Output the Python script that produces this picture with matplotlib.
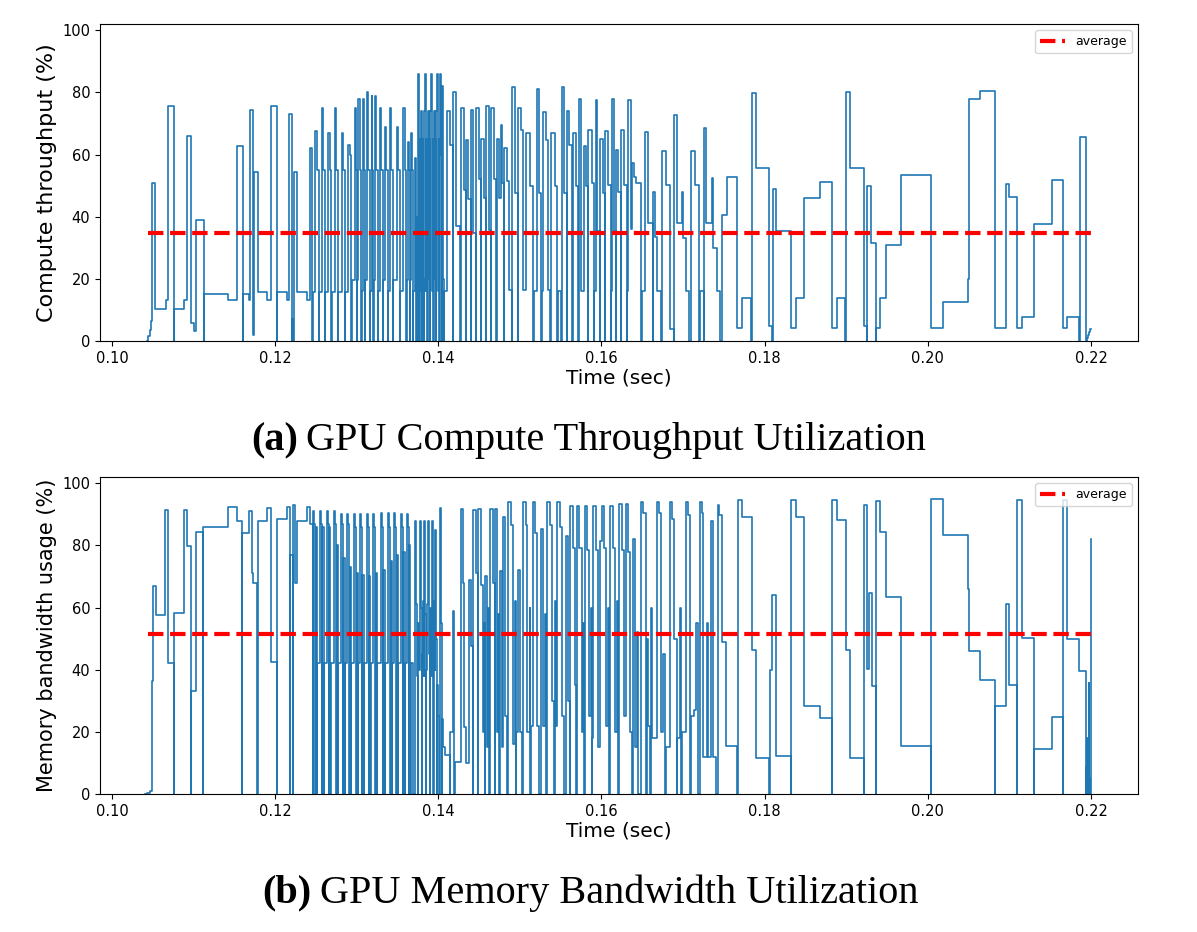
import numpy as np
import matplotlib.pyplot as plt

# ---------------- data (time in ms, utilisation in %) ----------------
# compute throughput, step values
comp_ms = [
    104.30, 104.45, 104.62, 104.78, 104.94, 105.27, 106.58, 106.90,
    107.60, 107.66, 108.86, 109.19, 109.68, 110.10, 110.30, 111.28,
    111.34, 114.26, 115.29, 116.02, 116.08, 116.79, 116.95, 117.28,
    117.41, 117.86, 118.96, 119.45, 120.19, 120.25, 121.49, 121.70,
    122.03, 122.08, 122.18, 122.31, 122.72, 123.87, 124.27, 124.55,
    124.60, 124.88, 125.09, 125.35, 125.40,
    # dense kernels
    125.71, 125.89, 126.07, 126.12,
    126.51, 126.69, 126.87, 126.92,
    127.34, 127.52, 127.70, 127.75,
    128.16, 128.34, 128.52, 128.57,
    128.97, 129.15, 129.33, 129.38,
    129.79, 129.89, 129.99, 130.03,
    130.19, 130.37, 130.55, 130.60,
    130.80, 130.90, 131.00, 131.04,
    131.22, 131.40, 131.58, 131.63,
    131.83, 131.93, 132.03, 132.07,
    132.24, 132.42, 132.60, 132.65,
    132.85, 133.03, 133.21, 133.26,
    133.46, 133.64, 133.82, 133.87,
    134.08, 134.26, 134.44, 134.49,
    134.90, 135.08, 135.26, 135.31,
    135.71, 135.89, 136.07, 136.12,
    136.32, 136.40, 136.48, 136.52,
    136.61, 136.76, 136.91, 136.96,
    137.14, 137.22,
    137.30, 137.35, 137.45, 137.50, 137.60, 137.68, 137.72, 137.82,
    137.90, 138.00, 138.05, 138.15, 138.22, 138.27, 138.37, 138.47,
    138.55, 138.65, 138.70, 138.80, 138.88, 138.98, 139.03, 139.12,
    139.22, 139.30, 139.40, 139.45, 139.55, 139.63, 139.73, 139.78,
    139.90, 140.00, 140.05, 140.12, 140.18, 140.30, 140.40, 140.45,
    140.58, 140.65, 140.70,
    141.03, 141.44, 141.80, 141.84, 142.17, 142.70, 142.74, 142.82,
    143.15, 143.36, 143.40, 143.68, 143.97, 144.01, 144.30, 144.58,
    144.62, 144.95, 145.24, 145.28, 145.60, 145.81, 145.85, 146.18,
    146.46, 146.50, 146.83, 147.12, 147.16, 147.44, 147.65, 147.85,
    148.06, 148.10, 148.38, 148.67, 149.04, 149.08, 149.44, 149.77,
    149.81, 150.10, 150.43, 150.75, 151.24, 151.57, 151.73, 152.06,
    152.39, 152.63, 152.70, 152.88, 153.20, 153.45, 153.74, 153.78,
    154.27, 154.59, 154.65, 155.08, 155.12, 155.41, 155.78, 155.82,
    156.06, 156.43, 156.47, 156.88, 157.17, 157.21, 157.54, 157.86,
    158.11, 158.35,
    158.39, 158.80, 159.09, 159.14, 159.33, 159.49, 159.78, 159.82,
    160.15, 160.39, 160.43, 160.84, 161.13, 161.18, 161.29, 161.54,
    161.74, 161.78, 162.07, 162.36, 162.40, 162.80, 163.09, 163.14,
    163.29, 163.58, 163.74, 164.03, 164.23, 164.81, 164.93, 165.38,
    165.75, 166.28, 166.36, 166.56, 166.85, 167.34, 167.38, 167.91,
    168.40, 168.90, 168.93, 169.22, 169.83, 170.04, 170.36, 170.77,
    170.94, 171.47, 171.96, 172.05, 172.53, 172.57, 172.81, 173.51,
    173.71, 174.12, 174.53, 174.74, 175.35,
    # sparse tail
    176.65, 177.26, 178.33, 178.41, 178.90, 180.57, 180.90, 180.99,
    181.39, 183.19, 183.84, 184.86, 186.79, 188.26, 188.83, 189.89,
    189.97, 190.46, 192.18, 192.51, 192.58, 193.00, 193.62, 193.65,
    194.14, 194.84, 196.68, 200.36, 201.90, 204.96, 205.08, 206.40,
    208.24, 209.58, 209.91, 210.90, 211.51, 213.05, 215.19, 216.53,
    217.10, 218.57, 218.65, 219.35, 219.47, 219.60, 219.75, 219.90,
    220.05,
]
comp_pct = [
    0, 1.5, 3.5, 6.5, 51.0, 10.3, 13.2, 75.6,
    0, 10.3, 13.2, 65.9, 5.7, 3.2, 38.8, 0,
    15.0, 13.2, 62.7, 0, 15.0, 13.2, 74.5, 2.0,
    54.5, 15.8, 13.2, 75.6, 0, 15.8, 13.2, 73.2,
    0, 7.0, 0, 54.5, 15.8, 13.2, 62.0, 0,
    15.8, 67.5, 55.0, 0, 15.8,
    75, 55, 0, 15.8,
    67, 55, 0, 15.8,
    75, 55, 0, 15.8,
    67, 55, 0, 15.8,
    63, 60, 0, 19.7,
    75, 55, 0, 19.7,
    78, 55, 0, 16.0,
    78, 55, 0, 19.7,
    80, 55, 0, 16.0,
    79, 55, 0, 19.7,
    79, 55, 0, 16.0,
    75, 55, 0, 19.7,
    69, 55, 0, 16.0,
    75, 55, 0, 19.7,
    69, 55, 0, 16.0,
    75, 55, 0, 19.7,
    64, 55, 0, 19.7,
    67, 55, 0, 16.0,
    59, 40,
    0, 40, 0, 86, 20, 0, 65, 16,
    74, 0, 65, 20, 0, 74, 86, 16,
    65, 0, 74, 20, 65, 0, 74, 86,
    16, 65, 0, 74, 20, 65, 0, 74,
    86, 16, 65, 0, 86, 60, 0, 82,
    20, 0, 16,
    74, 63, 0, 80, 37, 0, 16, 75,
    48.5, 0, 64.8, 45.7, 0, 74.5, 34.8, 0,
    75, 52, 0, 65, 46, 0, 75.6, 35.6,
    0, 75, 52, 0, 65, 46, 69.5, 51,
    0, 62, 51.4, 16.5, 0, 81.8, 47.6, 0,
    75, 68, 16.5, 66.8, 50, 0, 16, 81,
    47.7, 0, 16, 73.7, 64.8, 16.3, 0, 66.8,
    50, 0, 16, 0, 81.8, 47.6, 0, 74,
    63, 0, 67, 50, 0, 78, 16, 62.7,
    50, 0,
    67.8, 50.8, 0, 16, 77.6, 35.5, 0, 65,
    47.6, 0, 67.5, 50.3, 0, 16, 78, 35.5,
    0, 61.4, 47.8, 0, 68, 50.3, 0, 16,
    77.6, 36, 57.3, 52.7, 51, 0, 16, 67.2,
    38, 0, 48, 33.5, 16, 0, 61.3, 50.3,
    4, 0, 72.6, 38, 48, 33, 16, 0,
    61, 50.3, 0, 16, 0, 68.5, 38, 52.5,
    29.9, 16, 0, 40.6, 52.8,
    4.1, 13.7, 0, 79.9, 55.6, 4.8, 0, 49,
    35.5, 4.1, 13.7, 45.9, 51.1, 4.1, 13.7, 0,
    80.1, 55.6, 4.8, 0, 50, 31.7, 0, 4.1,
    13.7, 31, 53.3, 4.1, 12.6, 20, 78, 80.4,
    4.2, 50.6, 46.3, 4.1, 7.6, 37.5, 51.9, 4.1,
    7.6, 0, 65.5, 0, 1, 2, 3, 3.8,
    3.8,
]

# memory bandwidth usage
mem_ms = [
    104.10, 104.25, 104.66, 104.90, 104.98, 105.35, 106.50, 106.91, 107.60,
    107.64, 108.87, 109.23, 109.64, 109.68, 110.30, 111.16, 111.20,
    114.18, 115.28, 115.89, 115.98, 116.79, 117.12, 117.32, 117.82,
    117.86, 118.96, 119.45, 120.18, 120.22, 121.49, 121.80, 121.84,
    122.20, 122.23, 122.43, 122.72, 123.86, 124.27, 124.64,
    124.68, 124.80, 124.94, 124.98, 125.13, 125.17,
    125.50, 125.62, 125.76, 125.80, 125.95, 125.99,
    126.31, 126.43, 126.57, 126.61, 126.76, 126.80,
    127.25, 127.37, 127.51, 127.55, 127.70, 127.74,
    128.07, 128.19, 128.33, 128.37, 128.52, 128.56,
    128.85, 128.97, 129.11, 129.15, 129.30, 129.34,
    129.70, 129.82, 129.96, 130.00, 130.15, 130.19,
    130.40, 130.52, 130.66, 130.70, 130.85, 130.89,
    131.22, 131.34, 131.48, 131.52, 131.67, 131.71,
    132.03, 132.15, 132.29, 132.33, 132.48, 132.52,
    132.97, 133.09, 133.23, 133.27, 133.42, 133.46,
    133.87, 133.99, 134.13, 134.17, 134.32, 134.36,
    134.61, 134.73, 134.87, 134.91, 135.06, 135.10,
    135.43, 135.55, 135.69, 135.73, 135.88, 135.92,
    136.12, 136.24, 136.38, 136.42, 136.57, 136.61,
    136.90,
    137.18, 137.30, 137.40, 137.50, 137.55, 137.65, 137.75, 137.85,
    137.95, 138.00, 138.10, 138.20, 138.30, 138.40, 138.50, 138.55,
    138.65, 138.75, 138.85, 138.95, 139.00, 139.10, 139.20, 139.30,
    139.40, 139.45, 139.55, 139.65, 139.75, 139.85, 139.90, 140.00,
    140.10, 140.15, 140.30, 140.40, 140.45, 140.60,
    140.82, 141.43, 141.48, 141.76, 141.93, 142.05, 142.74, 142.99,
    143.15, 143.40, 143.81, 144.01, 144.26, 144.30, 144.62, 144.87,
    144.91, 145.19, 145.44, 145.60, 145.68, 145.73, 145.93, 146.14,
    146.20, 146.34, 146.67, 146.91, 146.95, 147.16, 147.36, 147.42,
    147.56, 147.77, 147.97, 148.18, 148.40, 148.59, 148.87, 149.12,
    149.40, 149.48, 149.55, 149.81, 150.02, 150.30, 150.34, 150.75,
    150.92, 151.20, 151.27, 151.35, 151.57, 151.85, 152.14, 152.40,
    152.59, 152.88, 153.10, 153.18, 153.37, 153.69, 153.90, 154.20,
    154.30, 154.38, 154.59, 154.92, 155.12, 155.40, 155.65, 155.94,
    156.11, 156.15, 156.47, 156.76, 156.92, 156.96, 157.29, 157.58,
    157.75, 157.82, 157.98, 158.27, 158.47, 158.75, 158.82, 158.90,
    159.01, 159.33, 159.62, 159.82, 160.11, 160.35, 160.56, 160.80,
    160.87, 161.05, 161.38, 161.66, 161.90, 161.97, 162.15, 162.48,
    162.77, 162.97, 163.30, 163.50, 163.70, 163.83, 164.11, 164.40,
    164.47, 164.85, 165.13, 165.46, 165.55, 165.75, 166.00, 166.10,
    166.25, 166.77, 167.05, 167.30, 167.60, 167.80, 167.90, 168.40,
    168.69, 168.94, 169.20, 169.30, 169.60, 169.80, 169.90, 170.37,
    170.65, 170.86, 171.00, 171.30, 171.60, 171.80, 172.08, 172.28,
    172.49, 172.90, 173.00, 173.39, 173.63, 174.00, 174.25, 174.45,
    174.74, 175.27,
    176.65, 176.68, 177.27, 178.41, 178.88, 180.58, 180.62, 180.86,
    181.39, 183.17, 183.19, 183.85, 184.87, 186.79, 188.24, 188.26,
    188.83, 189.97, 190.45, 192.16, 192.18, 192.51, 192.79, 193.12,
    193.63, 193.65, 194.14, 194.84, 196.68, 200.33, 200.35, 201.91,
    204.97, 205.09, 206.40, 208.22, 208.24, 209.59, 209.91, 210.88,
    210.90, 211.51, 213.04, 213.06, 215.19, 216.51, 216.53, 217.11,
    218.58, 219.33, 219.40, 219.48, 219.55, 219.62, 219.70, 219.78,
    219.86, 219.92, 219.98, 220.05,
]
mem_pct = [
    0, 0.3, 1.0, 36.2, 66.9, 57.7, 91.4, 42.2, 0,
    58.3, 91.4, 79.8, 0, 33.0, 84.4, 0, 85.9,
    92.2, 88.0, 0, 84.0, 91.0, 71.0, 68.0, 0,
    88.0, 92.0, 42.4, 0, 88.6, 92.2, 0, 76.8,
    0, 93.0, 68.0, 88.0, 92.2, 86.8, 0,
    91, 87, 0, 86, 0, 42,
    91, 87, 0, 86, 0, 42,
    91, 87, 0, 86, 0, 42,
    91, 87, 0, 80, 0, 42,
    90, 87, 0, 76, 0, 42,
    90, 87, 0, 73, 0, 42,
    90, 86, 0, 71, 0, 42,
    90, 86, 0, 70.5, 0, 42,
    90, 86, 0, 70, 0, 42,
    90, 86, 0, 71, 0, 42,
    90.5, 86, 0, 72, 0, 42,
    90.5, 86, 0, 75, 0, 42,
    90.5, 86, 0, 77, 0, 42,
    90, 86, 0, 78, 0, 42,
    90, 86, 0, 80, 0, 42,
    0,
    88, 61, 38, 0, 55, 40, 88, 60,
    0, 45, 62, 38, 88, 58, 0, 40,
    61, 88, 45, 0, 60, 38, 88, 55,
    0, 62, 40, 85, 50, 0, 35, 25,
    0, 92, 55, 0, 24, 15,
    12.6, 0, 20, 58.8, 0, 10.4, 91.8, 68,
    21.7, 9.9, 69, 47.5, 0, 91.4, 71, 0,
    91.6, 67.4, 20, 55, 0, 70.3, 15, 60,
    0, 91.6, 68, 0, 91.6, 20, 58, 0,
    71.7, 15, 89, 25, 0, 93.8, 86.5, 16,
    62, 0, 20, 72, 20, 0, 93.8, 86.5,
    20, 60, 0, 22, 93.8, 84.1, 22, 0,
    85.2, 22, 58, 0, 93.8, 86.5, 30, 0,
    62, 22, 93.8, 86, 25, 0, 83, 30,
    0, 92.7, 79, 35, 0, 92.7, 79, 20,
    55, 0, 92.7, 78.5, 25, 60, 0, 18,
    92.7, 78.5, 15, 81.4, 92.7, 79, 22, 60,
    0, 92.7, 79, 20, 62, 0, 93.3, 78.5,
    25, 93.3, 78, 20, 0, 81.9, 15, 52,
    0, 93.8, 90.5, 0, 50, 22, 0, 60,
    18, 93.8, 90.5, 20, 45, 0, 15, 93.8,
    88.4, 50, 0, 18, 60, 0, 20, 93.8,
    89.8, 0, 25, 27, 55, 0, 93.8, 90.5,
    12, 55, 12, 87.8, 12, 0, 93, 89.8,
    48.9, 15.5,
    0, 94.6, 89.2, 46.2, 11.5, 0, 40, 63.9,
    12.3, 0, 94.6, 89.1, 28.2, 24.4, 0, 94.6,
    88.2, 46.2, 11.5, 0, 92.9, 40.2, 64.7, 34.6,
    0, 94.3, 84.3, 63.4, 15.5, 0, 94.8, 83.3,
    65.8, 45.9, 36.8, 0, 28.4, 61, 35.2, 0,
    94.6, 50.2, 0, 14.4, 24.7, 0, 94.6, 49.9,
    39.5, 0, 8.8, 0, 18, 0, 35.7, 0,
    5, 0, 82, 82,
]

avg_span_ms = [104.41, 219.99]
comp_avg = 34.8
mem_avg = 51.6

x_ticks = [0.10, 0.12, 0.14, 0.16, 0.18, 0.20, 0.22]
y_ticks = [0, 20, 40, 60, 80, 100]

# ---------------- figure ----------------
fig = plt.figure(figsize=(11.97, 9.32), dpi=100)
ax1 = fig.add_axes([0.0835, 0.6341, 0.8672, 0.3401])
ax2 = fig.add_axes([0.0835, 0.1481, 0.8672, 0.3401])

panels = [
    (ax1, comp_ms, comp_pct, comp_avg, 'Compute throughput (%)', 16),
    (ax2, mem_ms, mem_pct, mem_avg, 'Memory bandwidth usage (%)', 15),
]
for ax, t, v, avg, ylab, yfs in panels:
    ax.step(np.array(t) / 1000, v, where='post', color='#1f77b4', lw=1.2)
    ax.plot(np.array(avg_span_ms) / 1000, [avg, avg], 'r--', lw=3, label='average')
    ax.set_xlim(0.09853, 0.22576)
    ax.set_ylim(0, 102)
    ax.set_xticks(x_ticks)
    ax.set_yticks(y_ticks)
    ax.tick_params(labelsize=10.5)
    ax.set_xlabel('Time (sec)', fontsize=14.5, labelpad=2)
    ax.set_ylabel(ylab, fontsize=yfs)
    ax.legend(loc='upper right', fontsize=9)

# sub-figure captions
cap_font = ['Liberation Serif', 'DejaVu Serif']
fig.text(0.249, 0.527, '(a)', fontsize=29, fontweight='bold', family=cap_font,
         ha='right', va='center')
fig.text(0.256, 0.527, 'GPU Compute Throughput Utilization', fontsize=29,
         family=cap_font, ha='left', va='center')
fig.text(0.260, 0.042, '(b)', fontsize=29, fontweight='bold', family=cap_font,
         ha='right', va='center')
fig.text(0.267, 0.042, 'GPU Memory Bandwidth Utilization', fontsize=29,
         family=cap_font, ha='left', va='center')

fig.savefig('out.png', dpi=100)
